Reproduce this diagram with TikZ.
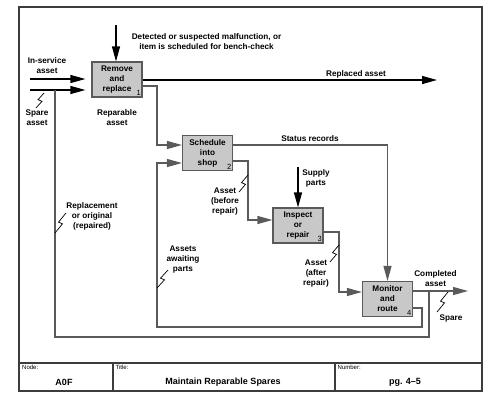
\documentclass[tikz,border=0pt]{standalone}
\usepackage{fontspec}
\setmainfont{Liberation Sans}
\usetikzlibrary{arrows.meta,calc}
\definecolor{linegray}{RGB}{90,90,90}
\definecolor{boxfill}{RGB}{200,200,200}
\definecolor{framegray}{RGB}{60,60,60}
\newcommand\zap[2]{\draw[boltline] (#1) -- ($(#1)!.5!(#2)+(2,0.8)$) -- ($(#1)!.5!(#2)+(-2,-0.8)$) -- (#2);}
\begin{document}
\begin{tikzpicture}[x=1pt,y=-1pt,
  lbl/.style={font=\fontsize{8.2}{10}\selectfont\bfseries,align=center,inner sep=0pt},
  small/.style={font=\fontsize{6}{7}\selectfont,inner sep=0pt,anchor=west},
  box/.style={draw=linegray,fill=boxfill,line width=1.2pt,minimum width=50pt,minimum height=35pt,inner sep=0pt,font=\fontsize{8.2}{10}\selectfont\bfseries,align=center},
  num/.style={font=\fontsize{7.5}{8}\selectfont,inner sep=1.5pt,anchor=south east},
  conn/.style={draw=linegray,line width=1.2pt},
  ext/.style={draw=black,line width=1.2pt},
  tip/.style={-{Triangle[length=15pt,width=8pt]}},
  boltline/.style={draw=black,line width=0.7pt},
  frame/.style={draw=framegray,line width=1.2pt}]
\useasboundingbox (0,0) rectangle (500,400);
% frame and title block
\draw[frame] (19,7) rectangle (482,391);
\draw[frame] (19,363) -- (482,363);
\draw[frame] (113,363) -- (113,391);
\draw[frame] (335,363) -- (335,391);
\node[small] (tnode) at (22,367.5) {Node:};
\node[small] (ttitle) at (115.5,367.5) {Title:};
\node[small] (tnum) at (337.5,367.5) {Number:};
\node[lbl,font=\fontsize{9}{10}\selectfont\bfseries] (vnode) at (64,382) {A0F};
\node[lbl,font=\fontsize{9}{10}\selectfont\bfseries] (vtitle) at (223,382) {Maintain Reparable Spares};
\node[lbl,font=\fontsize{9}{10}\selectfont\bfseries] (vnum) at (405,382) {pg. 4–5};
% boxes
\node[box] (b1) at (117,79.5) {Remove\\and\\replace};
\node[num] (n1) at (b1.south east) {1};
\node[box] (b2) at (207.5,153) {Schedule\\into\\shop};
\node[num] (n2) at (b2.south east) {2};
\node[box] (b3) at (298,225.5) {Inspect\\or\\repair};
\node[num] (n3) at (b3.south east) {3};
\node[box] (b4) at (387.5,299) {Monitor\\and\\route};
\node[num] (n4) at (b4.south east) {4};
% coordinates
\coordinate (c1) at (116,25);
\coordinate (in1) at (30,79);
\coordinate (in2) at (30,90);
\coordinate (rep) at (437,80);
\coordinate (k1) at (157,86);
\coordinate (k2) at (157,145);
\coordinate (s1) at (387.5,145);
\coordinate (t1) at (248,161);
\coordinate (t2) at (248,220);
\coordinate (sup) at (298,167);
\coordinate (u1) at (339,232);
\coordinate (u2) at (339,292);
\coordinate (o4) at (468,291);
\coordinate (p1) at (429,291);
\coordinate (p2) at (429,337);
\coordinate (p3) at (55,337);
\coordinate (p4) at (55,90);
\coordinate (w1) at (422,308);
\coordinate (w2) at (422,327);
\coordinate (w3) at (157,327);
\coordinate (w4) at (157,163);
% connectors
\draw[ext,tip] (c1) -- (c1 |- b1.north);
\draw[ext,tip,shorten >=6pt] (in1) -- (in1 -| b1.west);
\draw[ext,tip,shorten >=6pt] (in2) -- (in2 -| b1.west);
\draw[ext,tip] (rep -| b1.east) -- (rep);
\draw[conn,tip] (b1.east |- k1) -- (k1) -- (k2) -- (k2 -| b2.west);
\draw[conn,tip] (b2.east |- s1) -- (s1) -- (b4.north);
\draw[conn,tip] (b2.east |- t1) -- (t1) -- (t2) -- (t2 -| b3.west);
\draw[ext,tip] (sup) -- (b3.north);
\draw[conn,tip] (b3.east |- u1) -- (u1) -- (u2) -- (u2 -| b4.west);
\draw[conn,tip] (b4.east |- o4) -- (o4);
\draw[conn] (p1) -- (p2) -- (p3) -- (p4);
\draw[conn,tip] (b4.east |- w1) -- (w1) -- (w2) -- (w3) -- (w4) -- (w4 -| b2.west);
% labels
\node[lbl] (l1) at (206.5,42) {Detected or suspected malfunction, or\\item is scheduled for bench-check};
\node[lbl] (l2) at (47,66) {In-service\\asset};
\node[lbl] (l3) at (37,118) {Spare\\asset};
\node[lbl] (l4) at (117,118) {Reparable\\asset};
\node[lbl] (l5) at (356,74) {Replaced asset};
\node[lbl] (l6) at (310,139) {Status records};
\node[lbl] (l7) at (316,178) {Supply\\parts};
\node[lbl] (l8) at (225,201.5) {Asset\\(before\\repair)};
\node[lbl] (l9) at (92,216) {Replacement\\or original\\(repaired)};
\node[lbl] (l10) at (183,259.5) {Assets\\awaiting\\parts};
\node[lbl] (l11) at (316,274) {Asset\\(after\\repair)};
\node[lbl] (l12) at (435.5,278.5) {Completed\\asset};
\node[lbl] (l13) at (451,318) {Spare};
% bolts
\coordinate (z1a) at (36,108); \coordinate (z1b) at (44,93);
\coordinate (z2a) at (55,233); \coordinate (z2b) at (66,213);
\coordinate (z3a) at (157,288); \coordinate (z3b) at (168,270);
\coordinate (z4a) at (239,192); \coordinate (z4b) at (248,175);
\coordinate (z5a) at (330,262); \coordinate (z5b) at (339,245);
\coordinate (z6a) at (437,312); \coordinate (z6b) at (448,292);
\zap{z1a}{z1b}
\zap{z2a}{z2b}
\zap{z3a}{z3b}
\zap{z4a}{z4b}
\zap{z5a}{z5b}
\zap{z6a}{z6b}
\end{tikzpicture}
\end{document}
